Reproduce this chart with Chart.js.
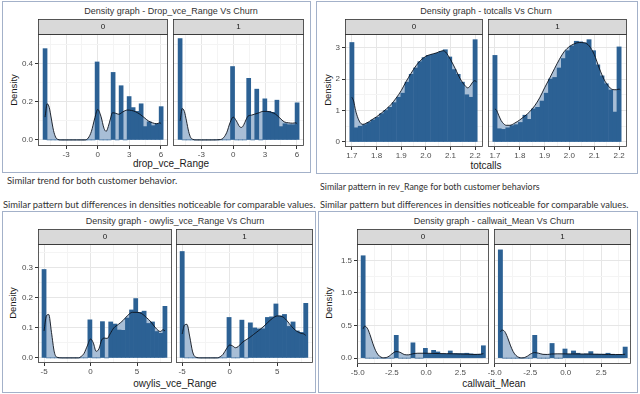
<!DOCTYPE html>
<html>
<head>
<meta charset="utf-8">
<script src="https://cdn.jsdelivr.net/npm/chart.js@4.4.1/dist/chart.umd.min.js"></script>
<style>
  body { margin: 0; width: 640px; height: 394px; background: #fff; position: relative; overflow: hidden;
         font-family: "Liberation Sans", Arial, sans-serif; }
  .box { position: absolute; border: 1.5px solid #a3b1c9; box-sizing: border-box; }
  .t { position: absolute; white-space: nowrap; transform: translate(-50%, -50%); }
  .ttl { font-size: 9px; color: #333; }
  .ax { font-size: 10px; color: #1a1a1a; }
  .yt { font-size: 9.5px; color: #1a1a1a; transform: translate(-50%, -50%) rotate(-90deg); }
  .note { position: absolute; white-space: nowrap; font-family: Lato, sans-serif; font-size: 9px;
          line-height: 12px; color: #333; transform-origin: 0 50%; }
  canvas { position: absolute; }
</style>
</head>
<body>
<div class="box" style="left:2px;top:1px;width:309px;height:172px"></div>
<div class="box" style="left:316px;top:1px;width:322px;height:173px"></div>
<div class="box" style="left:2px;top:211px;width:314px;height:182px"></div>
<div class="box" style="left:318px;top:211px;width:320px;height:182px"></div>

<div class="t ttl" style="left:171px;top:11px">Density graph - Drop_vce_Range Vs Churn</div>
<div class="t ttl" style="left:486px;top:11px">Density graph - totcalls Vs Churn</div>
<div class="t ttl" style="left:175px;top:221px">Density graph - owylis_vce_Range Vs Churn</div>
<div class="t ttl" style="left:494px;top:221px">Density graph - callwait_Mean Vs Churn</div>

<div class="t ax" style="left:171px;top:163px">drop_vce_Range</div>
<div class="t ax" style="left:486px;top:165px">totcalls</div>
<div class="t ax" style="left:175px;top:383px">owylis_vce_Range</div>
<div class="t ax" style="left:494px;top:383px">callwait_Mean</div>

<div class="t yt" style="left:13px;top:90px">Density</div>
<div class="t yt" style="left:327px;top:90px">Density</div>
<div class="t yt" style="left:12px;top:303px">Density</div>
<div class="t yt" style="left:328px;top:303px">Density</div>

<div class="note" data-w="170" style="left:7px;top:175px">Similar trend for both customer behavior.</div>
<div class="note" data-w="220" style="left:320px;top:181px">Similar pattern in rev_Range for both customer behaviors</div>
<div class="note" data-w="312" style="left:3px;top:199px">Similar pattern but differences in densities noticeable for comparable values.</div>
<div class="note" data-w="308" style="left:320px;top:199px">Similar pattern but differences in densities noticeable for comparable values.</div>

<script>
// ---- drop_vce_Range ----
const dropBins = [-5.00, -4.62, -4.24, -3.86, -3.48, -3.10, -2.72, -2.34, -1.96, -1.58, -1.20, -0.82, -0.44, -0.06, 0.32,
                  0.70, 1.08, 1.46, 1.84, 2.22, 2.60, 2.98, 3.36, 3.74, 4.12, 4.50, 4.88, 5.26, 5.64, 6.02];
const dropBars0 = [0.48, 0, 0, 0, 0, 0, 0, 0, 0, 0, 0, 0, 0, 0.41, 0, 0, 0, 0.355, 0, 0.285, 0, 0.228, 0.17, 0.15, 0.19, 0.07, 0.095, 0.075, 0.085, 0.175];
const dropBars1 = [0.533, 0, 0, 0, 0, 0, 0, 0, 0, 0, 0, 0, 0, 0.386, 0, 0, 0, 0.324, 0, 0.267, 0, 0.216, 0.15, 0.145, 0.209, 0.07, 0.085, 0.08, 0.08, 0.195];
const dropDensX = [-5.0, -4.8, -4.6, -4.4, -4.2, -4.0, -3.8, -3.5, -3.0, -2.0, -1.2, -0.9, -0.6, -0.3, 0.0, 0.3, 0.6, 0.8,
                   1.0, 1.2, 1.4, 1.7, 2.0, 2.4, 2.8, 3.2, 3.6, 4.0, 4.4, 4.8, 5.2, 5.6, 5.9, 6.02];
const dropDens0 = [0.12, 0.19, 0.17, 0.11, 0.05, 0.015, 0.003, 0, 0, 0, 0, 0.01, 0.045, 0.11, 0.16, 0.125, 0.06, 0.045,
                   0.07, 0.11, 0.143, 0.14, 0.135, 0.148, 0.157, 0.155, 0.148, 0.135, 0.118, 0.1, 0.09, 0.085, 0.09, 0.085];
const dropDens1 = [0.1, 0.165, 0.15, 0.1, 0.045, 0.012, 0.003, 0, 0, 0, 0.002, 0.012, 0.04, 0.09, 0.12, 0.1, 0.07, 0.066,
                   0.08, 0.105, 0.125, 0.13, 0.135, 0.142, 0.15, 0.15, 0.145, 0.135, 0.115, 0.095, 0.09, 0.088, 0.09, 0.085];

// ---- totcalls ----
const totBins = [1.700, 1.717, 1.734, 1.752, 1.769, 1.786, 1.803, 1.821, 1.838, 1.855, 1.872, 1.890, 1.907, 1.924, 1.941,
                 1.959, 1.976, 1.993, 2.010, 2.028, 2.045, 2.062, 2.079, 2.097, 2.114, 2.131, 2.148, 2.166, 2.183, 2.200];
const totBars0 = [3.16, 0.45, 0.5, 0.55, 0.62, 0.7, 0.78, 0.9, 1.0, 1.1, 1.25, 1.42, 1.55, 1.9, 2.15,
                  2.35, 2.55, 2.68, 2.75, 2.78, 2.82, 2.88, 2.93, 2.7, 2.3, 2.15, 1.9, 1.5, 1.42, 3.25];
const totBars1 = [2.75, 0.42, 0.4, 0.45, 0.52, 0.55, 0.62, 0.85, 0.72, 1.05, 1.1, 1.3, 1.55, 2.0, 2.05,
                  2.35, 2.65, 2.9, 3.05, 3.2, 3.18, 3.15, 3.25, 2.9, 2.45, 2.1, 1.85, 1.65, 0.95, 3.02];
const totDensX = [1.700, 1.707, 1.715, 1.725, 1.735, 1.745, 1.76, 1.78, 1.80, 1.82, 1.84, 1.86, 1.88, 1.90, 1.92, 1.94, 1.96,
                  1.98, 2.00, 2.02, 2.04, 2.06, 2.07, 2.08, 2.10, 2.12, 2.14, 2.16, 2.17, 2.18, 2.19, 2.20, 2.205];
const totDens0 = [1.42, 1.3, 1.0, 0.75, 0.6, 0.56, 0.6, 0.7, 0.8, 0.92, 1.05, 1.2, 1.4, 1.63, 1.92, 2.18, 2.42,
                  2.6, 2.72, 2.78, 2.82, 2.88, 2.9, 2.86, 2.62, 2.32, 2.0, 1.78, 1.72, 1.78, 1.9, 1.95, 1.9];
const totDens1 = [1.05, 1.0, 0.85, 0.68, 0.58, 0.53, 0.53, 0.6, 0.7, 0.82, 0.96, 1.15, 1.4, 1.72, 2.02, 2.33, 2.63,
                  2.88, 3.03, 3.12, 3.16, 3.15, 3.12, 3.05, 2.78, 2.35, 1.98, 1.75, 1.68, 1.66, 1.66, 1.68, 1.66];

// ---- owylis_vce_Range ----
const owyBins = [-5.00, -4.55, -4.10, -3.66, -3.21, -2.76, -2.31, -1.86, -1.42, -0.97, -0.52, -0.07, 0.38, 0.83, 1.28,
                 1.72, 2.17, 2.62, 3.07, 3.52, 3.97, 4.41, 4.86, 5.31, 5.76, 6.21, 6.66, 7.10, 7.55, 8.00];
const owyBars0 = [0.295, 0, 0, 0, 0, 0, 0, 0, 0, 0, 0, 0.127, 0, 0, 0.121, 0, 0.12, 0.113, 0.093, 0.092, 0.133, 0.16, 0.198, 0.152, 0.156, 0.115, 0.12, 0.088, 0.082, 0.172];
const owyBars1 = [0.355, 0, 0, 0, 0, 0, 0, 0, 0, 0, 0, 0.135, 0, 0, 0.126, 0, 0.117, 0.1, 0.097, 0.097, 0.135, 0.137, 0.18, 0.14, 0.145, 0.105, 0.12, 0.09, 0.085, 0.182];
const owyDensX = [-5.0, -4.75, -4.5, -4.2, -3.9, -3.6, -3.0, -2.0, -1.3, -1.0, -0.7, -0.35, 0.0, 0.3, 0.6, 0.9, 1.2,
                  1.5, 1.8, 2.1, 2.5, 3.0, 3.5, 4.0, 4.5, 5.0, 5.5, 6.0, 6.5, 7.0, 7.5, 7.8, 8.0];
const owyDens0 = [0.09, 0.14, 0.145, 0.085, 0.02, 0.002, 0, 0, 0, 0.005, 0.015, 0.04, 0.063, 0.05, 0.022, 0.03, 0.06,
                  0.066, 0.065, 0.08, 0.1, 0.112, 0.125, 0.142, 0.152, 0.152, 0.148, 0.135, 0.12, 0.1, 0.088, 0.094, 0.09];
const owyDens1 = [0.08, 0.11, 0.112, 0.07, 0.02, 0.003, 0, 0, 0, 0.004, 0.012, 0.03, 0.043, 0.04, 0.034, 0.038, 0.048,
                  0.056, 0.062, 0.068, 0.078, 0.09, 0.103, 0.118, 0.132, 0.14, 0.138, 0.125, 0.105, 0.09, 0.082, 0.08, 0.075];

// ---- callwait_Mean ----
const cwBins = [-4.60, -4.30, -3.99, -3.69, -3.39, -3.08, -2.78, -2.48, -2.18, -1.87, -1.57, -1.27, -0.96, -0.66, -0.36,
                -0.05, 0.25, 0.55, 0.86, 1.16, 1.46, 1.77, 2.07, 2.37, 2.67, 2.98, 3.28, 3.58, 3.89, 4.19];
const cwBars0 = [1.57, 0, 0, 0, 0, 0, 0, 0, 0.35, 0, 0, 0, 0.235, 0, 0, 0.15, 0.065, 0.12, 0.095, 0.065, 0.065, 0.11, 0.07, 0.07, 0.07, 0.075, 0.065, 0.06, 0.06, 0.19];
const cwBars1 = [1.66, 0, 0, 0, 0, 0, 0, 0, 0.35, 0, 0, 0, 0.225, 0, 0, 0.14, 0.06, 0.11, 0.075, 0.06, 0.065, 0.1, 0.06, 0.06, 0.06, 0.075, 0.06, 0.055, 0.055, 0.17];
const cwDensX = [-4.6, -4.5, -4.3, -4.1, -3.9, -3.7, -3.5, -3.3, -3.1, -2.9, -2.7, -2.5, -2.2, -1.9, -1.6, -1.3, -1.0,
                 -0.6, 0.0, 0.5, 1.0, 1.5, 2.0, 2.5, 3.0, 3.5, 4.0, 4.19];
const cwDens0 = [0.45, 0.49, 0.46, 0.36, 0.23, 0.12, 0.05, 0.015, 0.005, 0.01, 0.03, 0.065, 0.1, 0.09, 0.055, 0.05, 0.065,
                 0.075, 0.075, 0.072, 0.07, 0.068, 0.066, 0.063, 0.06, 0.056, 0.06, 0.068];
const cwDens1 = [0.4, 0.43, 0.41, 0.32, 0.2, 0.1, 0.04, 0.012, 0.004, 0.01, 0.03, 0.06, 0.085, 0.075, 0.058, 0.056, 0.063,
                 0.066, 0.065, 0.064, 0.063, 0.062, 0.06, 0.058, 0.056, 0.055, 0.056, 0.06];

const facetLabels = ["0", "1"];

Chart.defaults.font.family = '"Liberation Sans", Arial, sans-serif';

// strip header + panel border, ggplot theme_bw style
const stripPlugin = {
  id: "strip",
  afterDraw(chart, args, opts) {
    const { ctx, chartArea: a } = chart;
    ctx.save();
    ctx.fillStyle = "#d9d9d9";
    ctx.fillRect(a.left, a.top - 15, a.right - a.left, 15);
    ctx.strokeStyle = "#333";
    ctx.lineWidth = 0.8;
    ctx.strokeRect(a.left + 0.5, a.top - 14.5, a.right - a.left - 1, 15);
    ctx.strokeRect(a.left + 0.5, a.top + 0.5, a.right - a.left - 1, a.bottom - a.top - 1);
    ctx.fillStyle = "#1a1a1a";
    ctx.font = '8px "Liberation Sans"';
    ctx.textAlign = "center";
    ctx.textBaseline = "middle";
    ctx.fillText(opts.label, (a.left + a.right) / 2, a.top - 7);
    ctx.restore();
  },
};

function isMajor(v, major) {
  return Math.abs(v / major - Math.round(v / major)) < 1e-6;
}

function axis(ax, showLabels, isX) {
  return {
    type: "linear",
    offset: false,
    min: ax.min,
    max: ax.max,
    border: { display: false },
    grid: {
      offset: false,
      lineWidth: 1,
      tickLength: 3,
      color: (c) => (c.tick && isMajor(c.tick.value, ax.major) ? "#e6e6e6" : "#f4f4f4"),
      tickColor: (c) => (showLabels && c.tick && isMajor(c.tick.value, ax.major) ? "#333" : "rgba(0,0,0,0)"),
    },
    ticks: {
      display: showLabels,
      stepSize: ax.step,
      includeBounds: false,
      autoSkip: false,
      maxRotation: 0,
      padding: isX ? 1 : 2,
      color: "#4d4d4d",
      font: { size: 8 },
      callback: (v) => (isMajor(v, ax.major) ? (Math.abs(v) < 1e-9 ? 0 : v).toFixed(ax.dec) : ""),
    },
    afterFit: (s) => {
      if (isX) s.height = 16;
      else s.width = 30;
    },
  };
}

function facet(rect, xAx, yAx, bins, bars, densX, dens, label, showY) {
  const [l, t, r, b] = rect;
  const cv = document.createElement("canvas");
  const w = r - l + 36, h = b - t + 31;
  cv.width = w;
  cv.height = h;
  cv.style.left = l - 30 + "px";
  cv.style.top = t - 15 + "px";
  cv.style.width = w + "px";
  cv.style.height = h + "px";
  document.body.appendChild(cv);

  const densPts = densX.map((x, i) => ({ x: x, y: dens[i] }));
  new Chart(cv, {
    type: "bar",
    data: {
      datasets: [
        {
          type: "line",
          data: densPts,
          fill: "origin",
          backgroundColor: "#a8bed6",
          borderWidth: 0,
          pointRadius: 0,
          cubicInterpolationMode: "monotone",
          order: 3,
        },
        {
          type: "bar",
          data: bins.map((x, i) => ({ x: x, y: bars[i] })),
          backgroundColor: "#2c6194",
          borderWidth: 0,
          barPercentage: 1,
          categoryPercentage: 1,
          order: 2,
        },
        {
          type: "line",
          data: densPts,
          fill: false,
          borderColor: "rgba(12,18,28,0.9)",
          borderWidth: 1,
          pointRadius: 0,
          cubicInterpolationMode: "monotone",
          order: 1,
        },
      ],
    },
    options: {
      responsive: false,
      animation: false,
      devicePixelRatio: 1,
      layout: { padding: { top: 15, right: 6, left: 0, bottom: 0 } },
      plugins: { legend: { display: false }, tooltip: { enabled: false }, strip: { label: label } },
      scales: { x: axis(xAx, true, true), y: axis(yAx, showY, false) },
    },
    plugins: [stripPlugin],
  });
}

const dropX = { min: -5.67, max: 6.67, step: 1.5, major: 3, dec: 0 };
const dropY = { min: -0.032, max: 0.557, step: 0.1, major: 0.2, dec: 1 };
const totX = { min: 1.672, max: 2.232, step: 0.05, major: 0.1, dec: 1 };
const totY = { min: -0.16, max: 3.43, step: 0.5, major: 1, dec: 0 };
const owyX = { min: -5.65, max: 8.76, step: 2.5, major: 5, dec: 0 };
const owyY = { min: -0.017, max: 0.38, step: 0.05, major: 0.1, dec: 1 };
const cwX = { min: -5.05, max: 4.6, step: 1.25, major: 2.5, dec: 1 };
const cwY = { min: -0.09, max: 1.75, step: 0.25, major: 0.5, dec: 1 };

facet([38, 34, 168, 146], dropX, dropY, dropBins, dropBars0, dropDensX, dropDens0, facetLabels[0], true);
facet([173, 34, 304, 146], dropX, dropY, dropBins, dropBars1, dropDensX, dropDens1, facetLabels[1], false);
facet([345, 34, 483, 147], totX, totY, totBins, totBars0, totDensX, totDens0, facetLabels[0], true);
facet([488, 34, 627, 147], totX, totY, totBins, totBars1, totDensX, totDens1, facetLabels[1], false);
facet([38, 244, 172, 363], owyX, owyY, owyBins, owyBars0, owyDensX, owyDens0, facetLabels[0], true);
facet([176, 244, 313, 363], owyX, owyY, owyBins, owyBars1, owyDensX, owyDens1, facetLabels[1], false);
facet([357, 244, 489, 364], cwX, cwY, cwBins, cwBars0, cwDensX, cwDens0, facetLabels[0], true);
facet([494, 244, 631, 364], cwX, cwY, cwBins, cwBars1, cwDensX, cwDens1, facetLabels[1], false);

// squeeze the Calibri-like notes to the widths they have in the picture
document.querySelectorAll(".note").forEach((el) => {
  const target = +el.dataset.w;
  el.style.transform = "scaleX(" + target / el.offsetWidth + ")";
});
</script>
</body>
</html>
